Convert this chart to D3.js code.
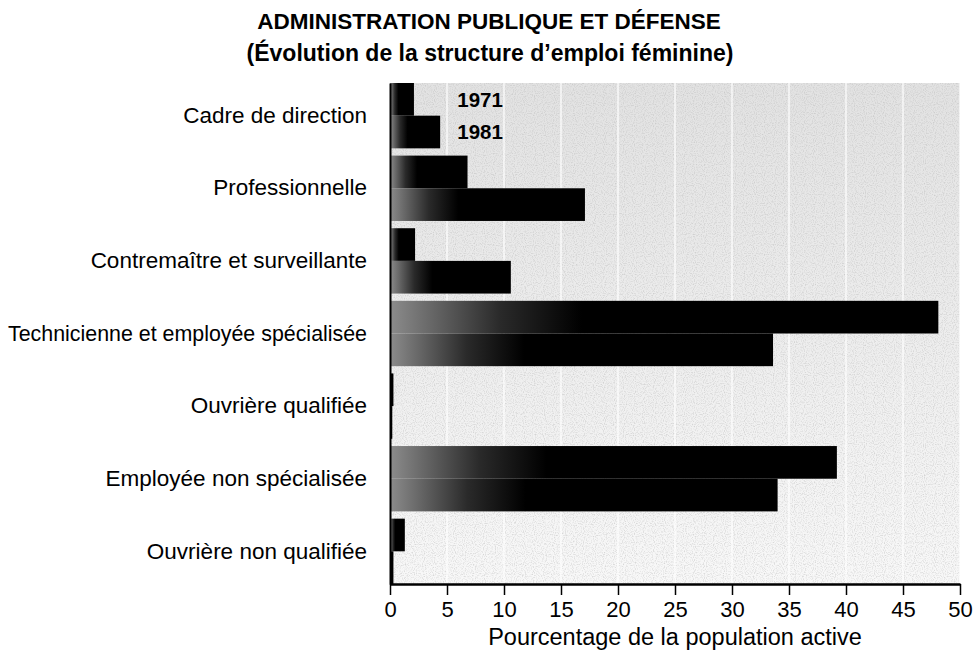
<!DOCTYPE html>
<html>
<head>
<meta charset="utf-8">
<script src="https://cdn.jsdelivr.net/npm/d3@7"></script>
<style>
  body { margin: 0; background: #fff; }
  text { font-family: "Liberation Sans", Arial, sans-serif; fill: #000; }
</style>
</head>
<body>
<div id="chart"></div>
<script>
const width = 977;
const height = 656;
const marginTop = 83;
const marginBottom = 72;
const marginLeft = 390;
const marginRight = 17;

// data
const categories = [
    "Cadre de direction",
    "Professionnelle",
    "Contremaître et surveillante",
    "Technicienne et employée spécialisée",
    "Ouvrière qualifiée",
    "Employée non spécialisée",
    "Ouvrière non qualifiée"
];
const years = ["1971", "1981"];
const values1971 = [2.1, 6.8, 2.2, 48.1, 0.3, 39.2, 1.3];
const values1981 = [4.4, 17.1, 10.6, 33.6, 0.2, 34.0, 0.3];
const xTicks = [0, 5, 10, 15, 20, 25, 30, 35, 40, 45, 50];

const rows = categories.map((c, i) => ({
    cat: c,
    bars: [
        { year: "1971", value: values1971[i] },
        { year: "1981", value: values1981[i] }
    ]
}));

var svg = d3.select("#chart").append("svg")
    .attr("width", width)
    .attr("height", height);

const x = d3.scaleLinear()
    .domain([0, 50])
    .range([marginLeft, width - marginRight]);

const y0 = d3.scaleBand()
    .domain(categories)
    .range([marginTop, height - marginBottom])
    .paddingInner(0.1)
    .paddingOuter(0);

const y1 = d3.scaleBand()
    .domain(years)
    .range([0, y0.bandwidth()]);

const defs = svg.append("defs");

// grey background, darker at the top
const bg = defs.append("linearGradient")
    .attr("id", "bgGrad")
    .attr("x1", 0).attr("y1", 0).attr("x2", 0).attr("y2", 1);
bg.append("stop").attr("offset", "0%").attr("stop-color", "#e2e2e2");
bg.append("stop").attr("offset", "45%").attr("stop-color", "#ececec");
bg.append("stop").attr("offset", "100%").attr("stop-color", "#f8f8f8");

// bar fill: grey on the left going to black
const barGrad = defs.append("linearGradient")
    .attr("id", "barGrad")
    .attr("x1", 0).attr("y1", 0).attr("x2", 1).attr("y2", 0);
barGrad.append("stop").attr("offset", "0%").attr("stop-color", "#8c8c8c");
barGrad.append("stop").attr("offset", "20%").attr("stop-color", "#2a2a2a");
barGrad.append("stop").attr("offset", "35%").attr("stop-color", "#000");
barGrad.append("stop").attr("offset", "100%").attr("stop-color", "#000");

// speckle texture
const noise = defs.append("filter")
    .attr("id", "noise")
    .attr("x", 0).attr("y", 0).attr("width", "100%").attr("height", "100%");
noise.append("feTurbulence")
    .attr("type", "fractalNoise")
    .attr("baseFrequency", 0.9)
    .attr("numOctaves", 1)
    .attr("seed", 3);
noise.append("feColorMatrix")
    .attr("type", "matrix")
    .attr("values", "0 0 0 0 0.45  0 0 0 0 0.45  0 0 0 0 0.45  2.4 0 0 0 -1.1");

const plotW = x(50) - x(0);
const plotH = height - marginBottom - marginTop;

svg.append("rect")
    .attr("x", x(0))
    .attr("y", marginTop)
    .attr("width", plotW)
    .attr("height", plotH)
    .attr("fill", "url(#bgGrad)");

svg.append("rect")
    .attr("x", x(0))
    .attr("y", marginTop)
    .attr("width", plotW)
    .attr("height", plotH)
    .attr("filter", "url(#noise)")
    .attr("opacity", 0.55);

// white vertical gridlines
svg.append("g")
    .attr("class", "grid")
    .selectAll("line")
    .data(xTicks.slice(1))
    .enter().append("line")
    .attr("x1", d => x(d))
    .attr("x2", d => x(d))
    .attr("y1", marginTop)
    .attr("y2", height - marginBottom)
    .attr("stroke", "#fff")
    .attr("stroke-width", 1.2);

// bars
const groups = svg.selectAll(".group")
    .data(rows)
    .enter().append("g")
    .attr("class", "group")
    .attr("transform", d => `translate(0,${y0(d.cat)})`);

groups.selectAll("rect")
    .data(d => d.bars)
    .enter().append("rect")
    .attr("x", x(0))
    .attr("y", d => y1(d.year))
    .attr("width", d => x(d.value) - x(0))
    .attr("height", y1.bandwidth())
    .attr("fill", "url(#barGrad)");

// axes
svg.append("g")
    .attr("class", "xAxis")
    .attr("transform", `translate(0,${height - marginBottom})`)
    .call(d3.axisBottom(x).tickValues(xTicks).tickSize(11).tickSizeOuter(0))
    .call(g => g.select(".domain").attr("stroke-width", 2.5))
    .call(g => g.selectAll(".tick line").attr("stroke-width", 1.5))
    .call(g => g.selectAll(".tick text")
        .attr("dy", "0.85em")
        .style("font-size", "22px")
        .style("font-family", "Liberation Sans, Arial, sans-serif"));

const labelRoom = marginLeft - 23 - 8;

svg.append("g")
    .attr("class", "yAxis")
    .attr("transform", `translate(${marginLeft},0)`)
    .call(d3.axisLeft(y0).tickSize(0).tickPadding(23).tickSizeOuter(0))
    .call(g => g.select(".domain").attr("stroke-width", 2))
    .call(g => g.selectAll(".tick text")
        .style("font-size", "22.5px")
        .style("font-family", "Liberation Sans, Arial, sans-serif")
        .each(function() {
            // squeeze labels that would run past the left edge
            if (this.getComputedTextLength() > labelRoom) {
                d3.select(this)
                    .attr("textLength", labelRoom)
                    .attr("lengthAdjust", "spacingAndGlyphs");
            }
        }));

// year labels beside the first group
svg.selectAll(".yearLabel")
    .data(years)
    .enter().append("text")
    .attr("class", "yearLabel")
    .attr("x", x(5.9))
    .attr("y", d => y0(categories[0]) + y1(d) + y1.bandwidth() / 2)
    .attr("dy", "0.35em")
    .text(d => d)
    .style("font-size", "20.5px")
    .style("font-weight", "bold");

// titles
svg.append("text")
    .attr("x", 489)
    .attr("y", 29)
    .attr("text-anchor", "middle")
    .text("ADMINISTRATION PUBLIQUE ET DÉFENSE")
    .style("font-size", "22.5px")
    .style("font-weight", "bold");

svg.append("text")
    .attr("x", 490)
    .attr("y", 61)
    .attr("text-anchor", "middle")
    .text("(Évolution de la structure d’emploi féminine)")
    .style("font-size", "23px")
    .style("font-weight", "bold");

svg.append("text")
    .attr("class", "xlabel")
    .attr("x", x(25))
    .attr("y", 645)
    .attr("text-anchor", "middle")
    .text("Pourcentage de la population active")
    .style("font-size", "23.5px");
</script>
</body>
</html>
